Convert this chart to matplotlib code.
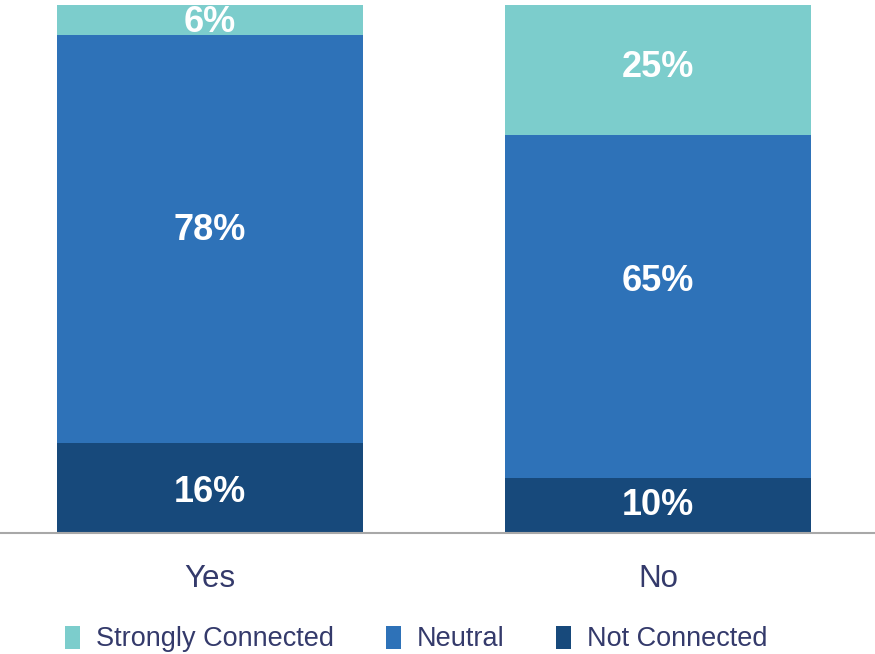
import matplotlib.pyplot as plt

categories = ["Yes", "No"]
series = ["Not Connected", "Neutral", "Strongly Connected"]
not_connected = [17.1, 10.4]
neutral = [77.2, 64.9]
strongly = [5.7, 24.7]
lab_not = [16, 10]
lab_neutral = [78, 65]
lab_strong = [6, 25]
colors = {"Strongly Connected": "#7ccdcc", "Neutral": "#2e72b8", "Not Connected": "#17497b"}
text_color = "#343a6b"

plt.rcParams['font.family'] = ['Liberation Sans', 'DejaVu Sans']

fig = plt.figure(figsize=(8.75, 6.54), dpi=100)
ax = fig.add_axes([0, 1 - 533 / 654, 1, (533 - 5) / 654])

x = range(len(categories))
bottom = [0, 0]
values = {"Not Connected": not_connected, "Neutral": neutral, "Strongly Connected": strongly}
labs = {"Not Connected": lab_not, "Neutral": lab_neutral, "Strongly Connected": lab_strong}
# where the label sits inside each segment (share of its height)
fracs = {"Not Connected": [0.445, 0.5], "Neutral": [0.52, 0.575],
         "Strongly Connected": [0.42, 0.52]}
bars = {}
for s in series:
    vals = values[s]
    bars[s] = ax.bar(x, vals, width=0.683, bottom=bottom, color=colors[s], label=s)
    for i, v in enumerate(vals):
        yc = bottom[i] + v * fracs[s][i]
        ax.text(i, yc, f"{labs[s][i]}%", ha="center", va="center", color="white",
                fontsize=26, fontweight="bold")
    bottom = [b + v for b, v in zip(bottom, vals)]

ax.set_xlim(-0.469, 1.484)
ax.set_ylim(0, 100)
for sp in ["top", "right", "left"]:
    ax.spines[sp].set_visible(False)
ax.spines["bottom"].set_color("#a8a8a8")
ax.spines["bottom"].set_linewidth(1.5)
ax.set_yticks([])
ax.set_xticks(list(x))
ax.set_xticklabels(categories, fontsize=22.5, color=text_color)
ax.tick_params(axis="x", length=0, pad=22)

handles = [bars[s] for s in ["Strongly Connected", "Neutral", "Not Connected"]]
labels = ["Strongly Connected", "Neutral", "Not Connected"]
fig.legend(handles, labels, loc="center", bbox_to_anchor=(0.476, 1 - 639 / 654),
           ncol=3, frameon=False, fontsize=19.5, labelcolor=text_color,
           handlelength=0.55, handleheight=0.95, handletextpad=0.6,
           columnspacing=1.9, borderpad=0, borderaxespad=0)

plt.savefig("out.png", dpi=100)
